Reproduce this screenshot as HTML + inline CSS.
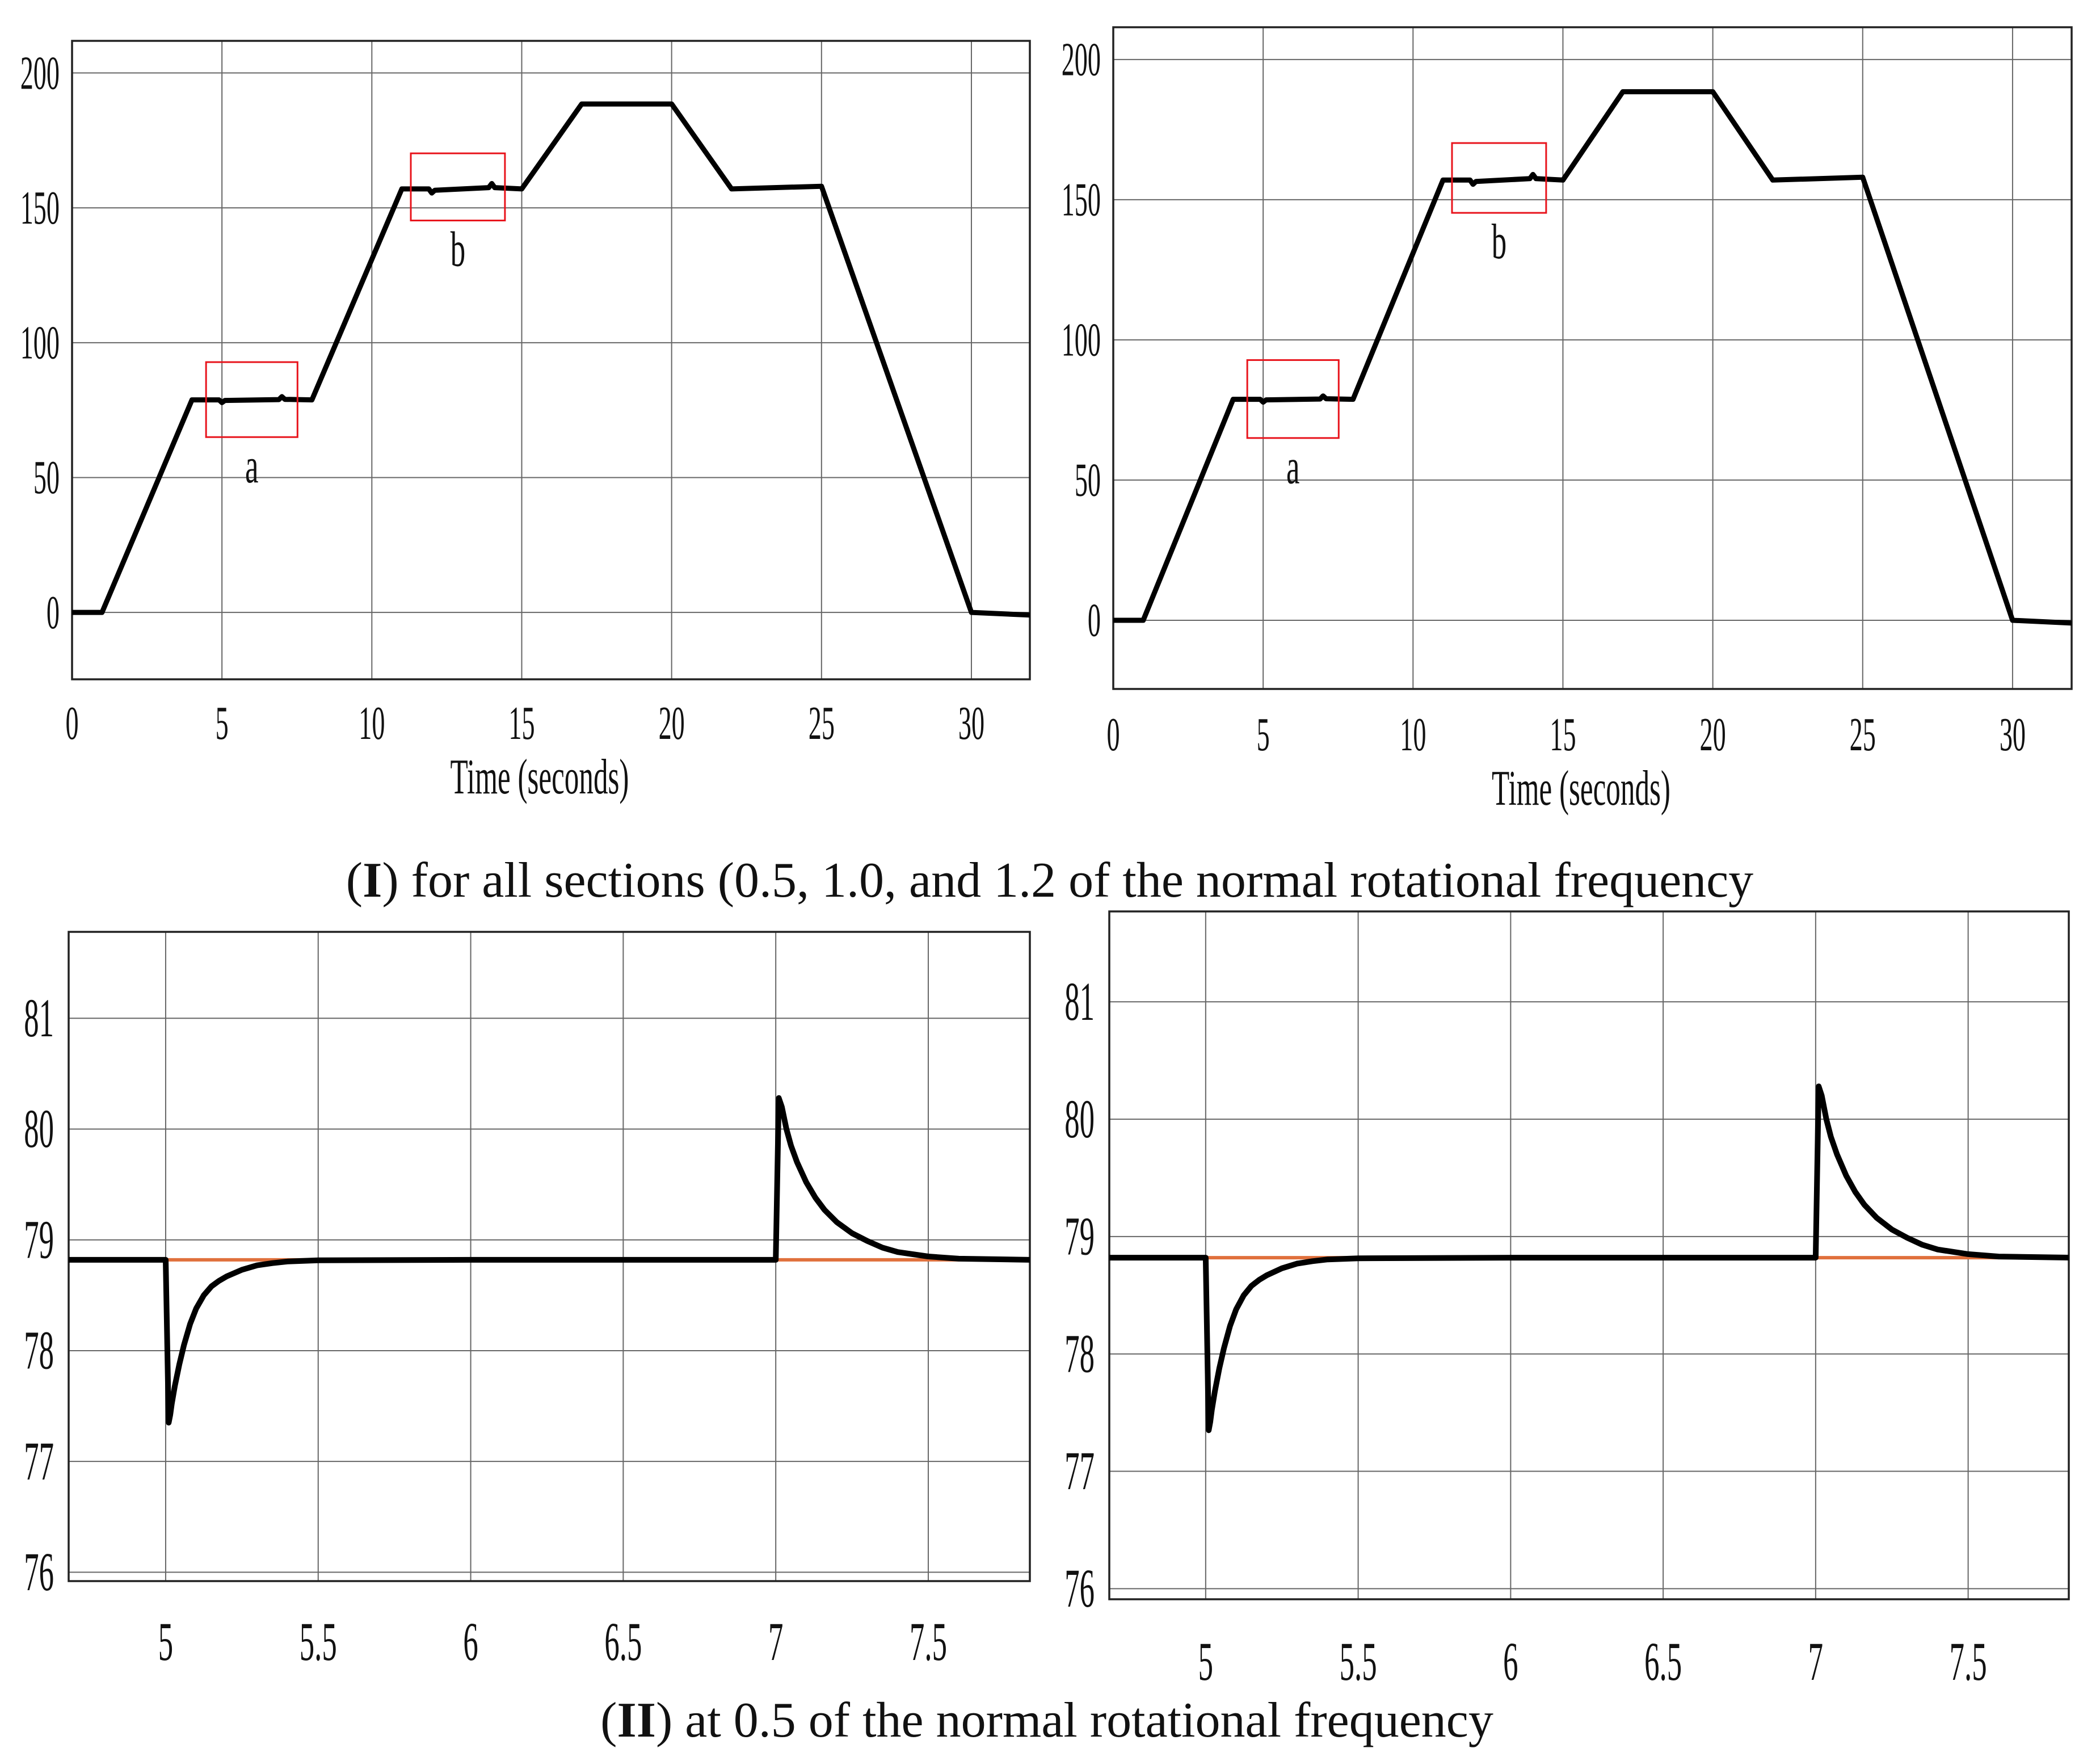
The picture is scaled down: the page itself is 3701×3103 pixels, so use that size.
<!DOCTYPE html>
<html><head><meta charset="utf-8"><style>
html,body{margin:0;padding:0;background:#fff}
svg{display:block}
text{font-family:"Liberation Serif",serif;fill:#111}
</style></head><body>
<svg id="fig" width="3701" height="3103" viewBox="0 0 3701 3103" xmlns="http://www.w3.org/2000/svg">
<text x="1850" y="1580" text-anchor="middle" font-size="88">(<tspan font-weight="bold">I</tspan>) for all sections (0.5, 1.0, and 1.2 of the normal rotational frequency</text>
<text x="1845" y="3060" text-anchor="middle" font-size="88">(<tspan font-weight="bold">II</tspan>) at 0.5 of the normal rotational frequency</text>
</svg>
<script>
// Top charts data (speed vs time)
const topTimes=[0,1,4,4.9,5,5.1,6.9,7,7.1,8,11,11.9,12,12.1,13.9,14,14.1,15,17,20,22,25,30,32];
const topValues=[0,0,78.8,78.8,77.8,78.6,78.9,80,79.0,78.8,157,157,155.5,156.5,157.5,159,157.5,157,188.5,188.5,157,158,0,-1];
const topXTicks=[0,5,10,15,20,25,30];
const topYTicks=[0,50,100,150,200];
const boxA=[4.47,7.52,65,92.8];
const boxB=[11.3,14.44,145.3,170.2];
// Bottom charts data (zoom of section a)
const botTimes=[4.68,5.0,5.01,5.015,5.02,5.03,5.045,5.06,5.08,5.1,5.125,5.15,5.175,5.2,5.25,5.3,5.35,5.4,5.5,6.0,6.99,7.0,7.01,7.02,7.035,7.05,7.07,7.1,7.13,7.16,7.2,7.25,7.3,7.35,7.4,7.5,7.6,7.84];
const botValues=[78.82,78.82,77.35,77.42,77.52,77.68,77.88,78.05,78.24,78.38,78.5,78.58,78.63,78.67,78.73,78.77,78.79,78.805,78.815,78.82,78.82,78.82,80.28,80.2,80.0,79.85,79.7,79.52,79.38,79.27,79.16,79.06,78.99,78.93,78.89,78.85,78.83,78.82];
const refTimes=[4.68,7.84];
const refValues=[78.82,78.82];
const botXTicks=[5,5.5,6,6.5,7,7.5];
const botYTicks=[76,77,78,79,80,81];

const NS="http://www.w3.org/2000/svg";
const svg=document.getElementById('fig');
function mk(tag,attrs,parent){const e=document.createElementNS(NS,tag);for(const k in attrs)e.setAttribute(k,attrs[k]);(parent||svg).appendChild(e);return e;}

function panel(p,name){
  const g=mk('g',{});
  
  
  const sx=v=>p.L+(v-p.x0)/(p.x1-p.x0)*(p.R-p.L);
  const sy=v=>p.B-(v-p.y0)/(p.y1-p.y0)*(p.B-p.T);
  p.xt.forEach(t=>{
    const l=mk('line',{x1:sx(t),x2:sx(t),y1:p.T,y2:p.B,stroke:'#666','stroke-width':2},g);
    
    
    const tx=mk('text',{'font-size':p.fs,'text-anchor':'middle',transform:`translate(${sx(t)},${p.xly}) scale(0.55,1)`},g);
    tx.textContent=t;
    
    
  });
  p.yt.forEach(t=>{
    const l=mk('line',{x1:p.L,x2:p.R,y1:sy(t),y2:sy(t),stroke:'#666','stroke-width':2},g);
    
    
    const tx=mk('text',{'font-size':p.fs,'text-anchor':'end',transform:`translate(${p.L-p.ylo},${sy(t)+p.fs*0.33}) scale(0.55,1)`},g);
    tx.textContent=t;
    
    
  });
  const fr=mk('rect',{x:p.L,y:p.T,width:p.R-p.L,height:p.B-p.T,fill:'none',stroke:'#222','stroke-width':3.5},g);
  
  
  const clipId='c'+name;
  const cp=mk('clipPath',{id:clipId},g);
  mk('rect',{x:p.L,y:p.T,width:p.R-p.L,height:p.B-p.T},cp);
  p.series.forEach(s=>{
    const d=s.t.map((t,i)=>(i?'L':'M')+sx(t).toFixed(1)+','+sy(s.v[i]).toFixed(1)).join(' ');
    const pa=mk('path',{d:d,fill:'none',stroke:s.c,'stroke-width':s.w,'stroke-linejoin':'round','clip-path':`url(#${clipId})`},g);
    
    
  });
  (p.boxes||[]).forEach(b=>{
    const r=mk('rect',{x:sx(b.r[0]),y:sy(b.r[3]),width:sx(b.r[1])-sx(b.r[0]),height:sy(b.r[2])-sy(b.r[3]),fill:'none',stroke:'#e8141c','stroke-width':3},g);
    
    
    const tx=mk('text',{'font-size':p.fs*1.05,'text-anchor':'middle',transform:`translate(${(sx(b.r[0])+sx(b.r[1]))/2},${sy(b.r[2])+p.fs*0.95}) scale(0.6,1)`},g);
    tx.textContent=b.l;
    
    
  });
  if(p.title){
    const tt=mk('text',{'font-size':p.fs*1.05,'text-anchor':'middle',transform:`translate(${(p.L+p.R)/2-20},${p.tly}) scale(0.58,1)`},g);
    tt.textContent='Time (seconds)';
    
    
  }
}
const topSeries=[{t:topTimes,v:topValues,c:'#000',w:9,n:'speed-line'}];
const topBoxes=[{r:boxA,l:'a'},{r:boxB,l:'b'}];
panel({L:127,R:1815,T:72,B:1197,x0:0,x1:31.95,y0:-24.8,y1:211.9,xt:topXTicks,yt:topYTicks,fs:84,xly:1302,ylo:22,title:1,tly:1398,series:topSeries,boxes:topBoxes},'top-left-chart');
panel({L:1962,R:3651,T:48,B:1214,x0:0,x1:31.97,y0:-24.5,y1:211.5,xt:topXTicks,yt:topYTicks,fs:84,xly:1322,ylo:22,title:1,tly:1418,series:topSeries,boxes:topBoxes},'top-right-chart');
const botSeries=[{t:refTimes,v:refValues,c:'#e0703c',w:6,n:'reference-line'},{t:botTimes,v:botValues,c:'#000',w:10,n:'speed-line'}];
panel({L:121,R:1815,T:1642,B:2786,x0:4.682,x1:7.833,y0:75.92,y1:81.78,xt:botXTicks,yt:botYTicks,fs:96,xly:2925,ylo:26,series:botSeries},'bottom-left-chart');
panel({L:1955,R:3646,T:1606,B:2818,x0:4.684,x1:7.83,y0:75.91,y1:81.77,xt:botXTicks,yt:botYTicks,fs:96,xly:2960,ylo:26,series:botSeries},'bottom-right-chart');
</script>
</body></html>
